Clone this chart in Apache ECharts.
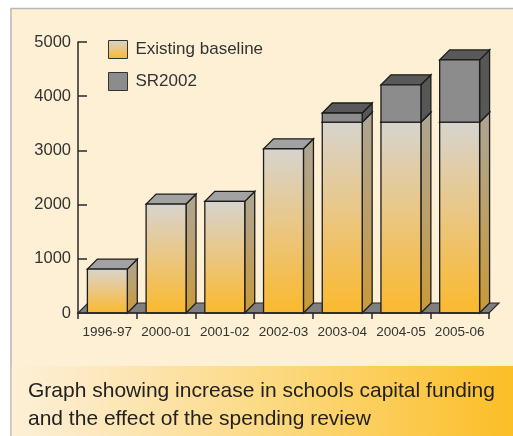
<!DOCTYPE html>
<html>
<head>
<meta charset="utf-8">
<script src="https://cdn.jsdelivr.net/npm/echarts@6/dist/echarts.min.js"></script>
<style>
html,body{margin:0;padding:0;background:#ffffff;}
#chart{width:513px;height:436px;}
</style>
</head>
<body>
<div id="chart"></div>
<script>
const categories = ['1996-97','2000-01','2001-02','2002-03','2003-04','2004-05','2005-06'];
const baseline = [810, 2010, 2060, 3030, 3520, 3520, 3520];
const sr2002 = [0, 0, 0, 0, 170, 690, 1150];
const yTicks = [0, 1000, 2000, 3000, 4000, 5000];
const captionLines = ['Graph showing increase in schools capital funding', 'and the effect of the spending review'];

const FONT = '"Liberation Sans", Arial, Helvetica, sans-serif';
const G = echarts.graphic;

function grad(stops) {
  return new G.LinearGradient(0, 0, 0, 1, stops.map((c, i) => ({offset: i / (stops.length - 1), color: c})));
}

const styles = {
  base: {
    front: () => grad(['#d7d4ce', '#ebc680', '#fbb92c']),
    side: () => grad(['#aca594', '#bca06a', '#c99a36']),
    top: '#a2a2a2'
  },
  sr: {
    front: () => '#8c8c8c',
    side: () => '#575757',
    top: '#595959'
  }
};
const EDGE = '#1c1c1c';

function boxRenderer(kind) {
  return function (params, api) {
    const i = api.value(0), lo = api.value(1), hi = api.value(2);
    const bw = api.size([1, 0])[0];
    const w = bw * 0.68, d = bw * 0.17;
    const pLo = api.coord([i, lo]), pHi = api.coord([i, hi]);
    const x0 = pLo[0] - w / 2, x1 = pLo[0] + w / 2, yb = pLo[1], yt = pHi[1];
    const st = styles[kind];
    const lw = 1.3;
    return {
      type: 'group',
      children: [
        {type: 'polygon', shape: {points: [[x1, yb], [x1 + d, yb - d], [x1 + d, yt - d], [x1, yt]]},
         style: {fill: st.side(), stroke: EDGE, lineWidth: lw}},
        {type: 'polygon', shape: {points: [[x0, yt], [x1, yt], [x1 + d, yt - d], [x0 + d, yt - d]]},
         style: {fill: st.top, stroke: EDGE, lineWidth: lw}},
        {type: 'rect', shape: {x: x0, y: yt, width: w, height: yb - yt},
         style: {fill: st.front(), stroke: EDGE, lineWidth: lw}}
      ]
    };
  };
}

const baseData = categories.map((c, i) => [i, 0, baseline[i]]);
const srData = categories.map((c, i) => [i, baseline[i], baseline[i] + sr2002[i]]).filter((r, i) => sr2002[i] > 0);

const chart = echarts.init(document.getElementById('chart'), null, {renderer: 'canvas'});
chart.setOption({
  animation: false,
  backgroundColor: '#ffffff',
  textStyle: {fontFamily: FONT},
  graphic: [
    {type: 'rect', z: -10, shape: {x: 11, y: 8.5, width: 520, height: 440},
     style: {fill: '#fdf0d4', stroke: '#b8b8b8', lineWidth: 1.5}},
    {type: 'rect', z: -9, shape: {x: 11.8, y: 366, width: 510, height: 80},
     style: {fill: new G.LinearGradient(0, 0, 1, 0, [
       {offset: 0, color: '#fdf0d6'}, {offset: 0.15, color: '#fde9c2'},
       {offset: 0.55, color: '#fcd77a'}, {offset: 1, color: '#fbbd24'}])}},
    {type: 'text', z: 10, left: 28, top: 377,
     style: {text: captionLines.join('\n'), font: '21px ' + FONT, fill: '#222222', lineHeight: 28}}
  ],
  legend: {
    orient: 'vertical', left: 108, top: 40, padding: 0,
    itemWidth: 19, itemHeight: 18, itemGap: 13,
    icon: 'rect',
    textStyle: {fontSize: 17, color: '#333333', fontFamily: FONT, padding: [0, 0, 0, 3]},
    data: [
      {name: 'Existing baseline', itemStyle: {color: grad(['#d7d4ce', '#ebc680', '#fbb92c']), borderColor: '#333', borderWidth: 1}},
      {name: 'SR2002', itemStyle: {color: '#8c8c8c', borderColor: '#333', borderWidth: 1}}
    ]
  },
  grid: {left: 78, right: 24, top: 42, bottom: 123},
  xAxis: {
    type: 'category', data: categories,
    axisLine: {show: true, lineStyle: {color: '#2a2a2a', width: 1.5}},
    axisTick: {show: true, length: 6, inside: false, alignWithLabel: false, interval: 0, lineStyle: {color: '#2a2a2a', width: 1.5}},
    axisLabel: {fontSize: 13.5, color: '#333333', margin: 12, fontFamily: FONT, interval: 0},
    z: 5
  },
  yAxis: {
    type: 'value', min: 0, max: 5000, interval: 1000,
    splitLine: {show: false},
    axisLine: {show: true, lineStyle: {color: '#2a2a2a', width: 1.5}},
    axisTick: {show: true, inside: true, length: 9, lineStyle: {color: '#2a2a2a', width: 1.5}},
    axisLabel: {fontSize: 16.5, color: '#333333', margin: 7, fontFamily: FONT,
      formatter: v => yTicks.indexOf(v) >= 0 ? String(v) : ''}
  },
  series: [
    {
      type: 'custom', name: 'floor', silent: true, z: 1,
      data: [[0]],
      renderItem: function (params, api) {
        const cs = params.coordSys;
        const bw = api.size([1, 0])[0];
        const d = bw * 0.17;
        const y0 = api.coord([0, 0])[1];
        const xa = cs.x, xb = cs.x + cs.width;
        return {type: 'polygon', shape: {points: [[xa, y0], [xb, y0], [xb + d, y0 - d], [xa + d, y0 - d]]},
          style: {fill: '#7f7f7f', stroke: '#2a2a2a', lineWidth: 1.2}};
      }
    },
    {type: 'custom', name: 'Existing baseline', z: 2, data: baseData, renderItem: boxRenderer('base'),
     itemStyle: {color: '#e8c27a'}, encode: {x: 0, y: 2}},
    {type: 'custom', name: 'SR2002', z: 3, data: srData, renderItem: boxRenderer('sr'),
     itemStyle: {color: '#8c8c8c'}, encode: {x: 0, y: 2}}
  ]
});
</script>
</body>
</html>
